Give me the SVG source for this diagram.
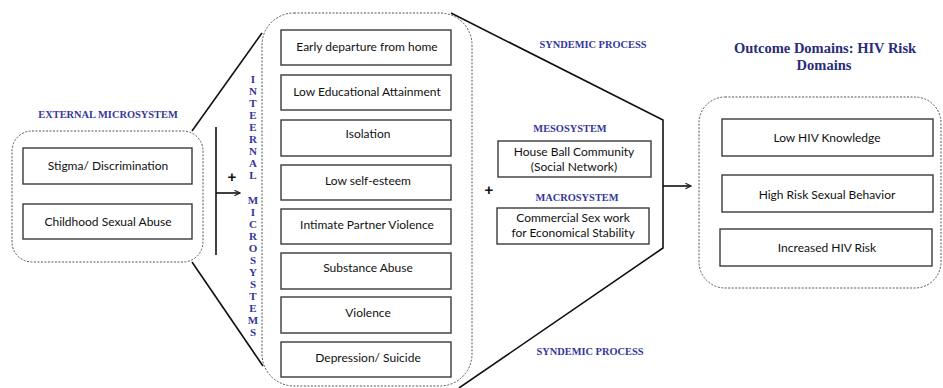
<svg xmlns="http://www.w3.org/2000/svg" width="943" height="388" viewBox="0 0 943 388">
<defs>
<marker id="arr" viewBox="0 0 10 10" refX="9" refY="5" markerWidth="7" markerHeight="7" orient="auto" markerUnits="userSpaceOnUse">
<path d="M1,1 L9,5 L1,9" fill="none" stroke="#222" stroke-width="1.6"/>
</marker>
<style>
.grp{fill:none;stroke:#555;stroke-width:1;stroke-dasharray:2,1.5}
.box{fill:#fff;stroke:#3a3a3a;stroke-width:1.4}
.t{font-family:Lato,"Open Sans",sans-serif;font-size:12px;fill:#111;text-anchor:middle}
.h{font-family:"Liberation Serif","DejaVu Serif",serif;font-weight:bold;font-size:10.4px;fill:#35379a;text-anchor:middle}
.v{font-family:"Liberation Serif","DejaVu Serif",serif;font-weight:bold;font-size:11px;fill:#35379a;text-anchor:middle}
.ttl{font-family:"Liberation Serif","DejaVu Serif",serif;font-weight:bold;font-size:14.5px;fill:#2a2c7b;text-anchor:middle}
.ln{fill:none;stroke:#111;stroke-width:1.6}
.plus{font-family:"Liberation Sans",Arial,sans-serif;font-weight:bold;font-size:15px;fill:#111;text-anchor:middle}
</style>
</defs>
<rect width="943" height="388" fill="#fff"/>

<g id="connectors">
<path class="ln" d="M192,131 L262,33"/>
<path class="ln" d="M192,262 L263,366"/>
<path class="ln" d="M451,13 L663,120 L663,248 L459,388"/>
<path class="ln" d="M216,127 L216,255"/>
<path class="ln" stroke-width="1.2" d="M216,193 L240,193" marker-end="url(#arr)"/>
<path class="ln" stroke-width="1.2" d="M663,186 L691,186" marker-end="url(#arr)"/>
<text class="plus" x="232" y="182">+</text>
<text class="plus" x="489" y="195">+</text>
<text class="h" x="593" y="48">SYNDEMIC PROCESS</text>
<text class="h" x="590" y="355">SYNDEMIC PROCESS</text>
</g>

<g id="external">
<text class="h" x="108" y="118">EXTERNAL MICROSYSTEM</text>
<rect class="grp" x="12" y="131" width="191" height="131" rx="20"/>
<g id="stigma"><rect class="box" x="23" y="148" width="169" height="36"/><text class="t" x="108" y="170">Stigma/ Discrimination</text></g>
<g id="csa"><rect class="box" x="23" y="204" width="169" height="35"/><text class="t" x="108" y="226">Childhood Sexual Abuse</text></g>
</g>

<g id="internal">
<rect class="grp" x="262" y="13" width="210" height="373" rx="32"/>
<text class="v" x="253"><tspan x="253" y="83">I</tspan><tspan x="253" dy="12">N</tspan><tspan x="253" dy="12">T</tspan><tspan x="253" dy="12">E</tspan><tspan x="253" dy="12">E</tspan><tspan x="253" dy="12">R</tspan><tspan x="253" dy="12">N</tspan><tspan x="253" dy="12">A</tspan><tspan x="253" dy="12">L</tspan><tspan x="253" dy="24.5">M</tspan><tspan x="253" dy="12">I</tspan><tspan x="253" dy="12">C</tspan><tspan x="253" dy="12">R</tspan><tspan x="253" dy="12">O</tspan><tspan x="253" dy="12">S</tspan><tspan x="253" dy="12">Y</tspan><tspan x="253" dy="12">S</tspan><tspan x="253" dy="12">T</tspan><tspan x="253" dy="12">E</tspan><tspan x="253" dy="12">M</tspan><tspan x="253" dy="12">S</tspan></text>
<g id="i1"><rect class="box" x="281" y="30" width="170" height="35"/><text class="t" x="367" y="51">Early departure from home</text></g>
<g id="i2"><rect class="box" x="281" y="75" width="170" height="35"/><text class="t" x="367" y="96">Low Educational Attainment</text></g>
<g id="i3"><rect class="box" x="281" y="120" width="170" height="36"/><text class="t" x="368" y="138">Isolation</text></g>
<g id="i4"><rect class="box" x="281" y="165" width="170" height="35"/><text class="t" x="368" y="185">Low self-esteem</text></g>
<g id="i5"><rect class="box" x="281" y="209" width="170" height="35"/><text class="t" x="367" y="229">Intimate Partner Violence</text></g>
<g id="i6"><rect class="box" x="281" y="253" width="170" height="36"/><text class="t" x="368" y="272">Substance Abuse</text></g>
<g id="i7"><rect class="box" x="281" y="297" width="170" height="36"/><text class="t" x="368" y="317">Violence</text></g>
<g id="i8"><rect class="box" x="281" y="342" width="170" height="35"/><text class="t" x="368" y="362">Depression/ Suicide</text></g>
</g>

<g id="meso">
<text class="h" x="570" y="132">MESOSYSTEM</text>
<rect class="box" x="498" y="141" width="153" height="36"/>
<text class="t" x="574" y="156">House Ball Community</text>
<text class="t" x="574" y="171">(Social Network)</text>
</g>
<g id="macro">
<text class="h" x="577" y="201">MACROSYSTEM</text>
<rect class="box" x="497" y="208" width="152" height="36"/>
<text class="t" x="573" y="222">Commercial Sex work</text>
<text class="t" x="573" y="237">for Economical Stability</text>
</g>

<g id="outcome">
<text class="ttl" x="825" y="53">Outcome Domains: HIV Risk</text>
<text class="ttl" x="824" y="70">Domains</text>
<rect class="grp" x="699" y="97" width="242" height="191" rx="26"/>
<g id="o1"><rect class="box" x="722" y="119" width="211" height="37"/><text class="t" x="827" y="142">Low HIV Knowledge</text></g>
<g id="o2"><rect class="box" x="722" y="175" width="211" height="37"/><text class="t" x="827" y="199">High Risk Sexual Behavior</text></g>
<g id="o3"><rect class="box" x="720" y="229" width="212" height="37"/><text class="t" x="827" y="252">Increased HIV Risk</text></g>
</g>
</svg>
